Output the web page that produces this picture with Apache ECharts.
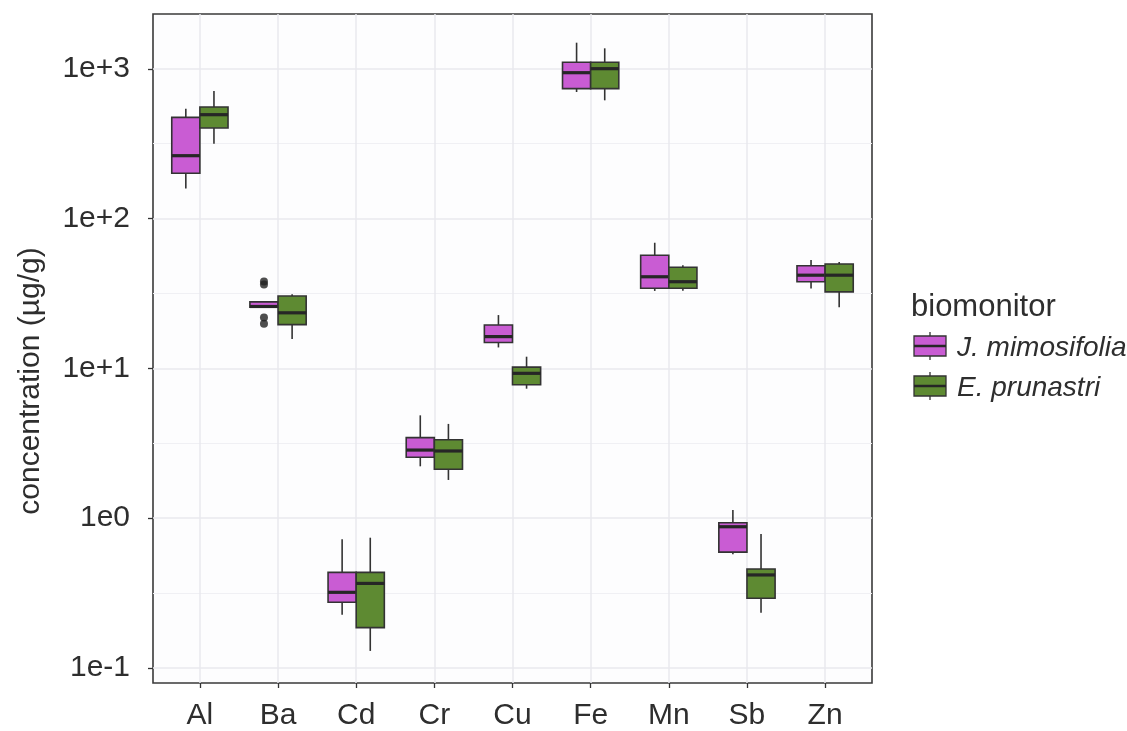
<!DOCTYPE html>
<html>
<head>
<meta charset="utf-8">
<title>Element concentrations by biomonitor</title>
<script src="https://cdn.jsdelivr.net/npm/echarts@6/dist/echarts.min.js"></script>
<style>
  html, body { margin: 0; padding: 0; background: #ffffff; }
  #chart { width: 1127px; height: 731px; }
</style>
</head>
<body>
<div id="chart"></div>
<script>
// Elements on the x axis
const elements = ['Al', 'Ba', 'Cd', 'Cr', 'Cu', 'Fe', 'Mn', 'Sb', 'Zn'];
const biomonitors = ['J. mimosifolia', 'E. prunastri'];
const yTitle = 'concentration (µg/g)';

// Box statistics per element: [lower whisker, Q1, median, Q3, upper whisker] in µg/g
const mimosifoliaStats = [
  [159, 201, 263, 474, 542],
  [25.6, 25.6, 25.9, 27.8, 27.8],
  [0.227, 0.275, 0.320, 0.435, 0.723],
  [2.22, 2.55, 2.85, 3.45, 4.86],
  [13.8, 14.9, 16.3, 19.5, 22.7],
  [700, 737, 942, 1105, 1494],
  [32.9, 34.3, 40.9, 56.9, 69.0],
  [0.574, 0.594, 0.877, 0.933, 1.135],
  [34.1, 37.9, 41.9, 48.5, 52.9]
];
const prunastriStats = [
  [316, 403, 494, 556, 711],
  [15.7, 19.6, 23.5, 30.4, 31.3],
  [0.130, 0.186, 0.367, 0.435, 0.741],
  [1.80, 2.12, 2.81, 3.34, 4.26],
  [7.32, 7.78, 9.27, 10.2, 11.97],
  [616, 737, 1002, 1105, 1370],
  [33.0, 34.3, 37.9, 47.3, 48.8],
  [0.234, 0.292, 0.418, 0.458, 0.785],
  [25.6, 32.4, 41.9, 49.8, 51.3]
];

// Outlying samples: [element, concentration]
const mimosifoliaOutliers = [
  ['Ba', 38.0], ['Ba', 36.3], ['Ba', 21.9], ['Ba', 19.9]
];
const prunastriOutliers = [];

// Y axis breaks (log10 scale)
const majorBreaks = [0.1, 1, 10, 100, 1000];
const majorBreakLabels = ['1e-1', '1e0', '1e+1', '1e+2', '1e+3'];
const minorBreaks = [0.3162, 3.162, 31.62, 316.2];

const Y_MIN = 0.0794;
const Y_MAX = 2322;
const DODGE = 0.18;      // half of a dodged box slot, in category units
const BOX_HALF = 0.18;   // half box width, in category units

const FILLS = ['#C95CD3', '#5E8A32'];
const OUTLINE = '#333333';
const TEXT = '#2e2e2e';
const FONT = "'Liberation Sans', Arial, Helvetica, sans-serif";

function boxData(stats) {
  return stats.map((s, i) => [i + 1].concat(s));
}

function outlierData(list, offset) {
  return list.map(([el, v]) => [elements.indexOf(el) + 1 + offset, v]);
}

function boxRenderer(offset, fill) {
  return function (params, api) {
    const cx = api.value(0) + offset;
    const lo = api.coord([cx, api.value(1)]);
    const q1 = api.coord([cx, api.value(2)]);
    const md = api.coord([cx, api.value(3)]);
    const q3 = api.coord([cx, api.value(4)]);
    const hi = api.coord([cx, api.value(5)]);
    const left = api.coord([cx - BOX_HALF, api.value(3)])[0];
    const right = api.coord([cx + BOX_HALF, api.value(3)])[0];
    const x = md[0];
    const lineStyle = { stroke: OUTLINE, lineWidth: 1.6 };
    return {
      type: 'group',
      children: [
        { type: 'line', shape: { x1: x, y1: hi[1], x2: x, y2: q3[1] }, style: lineStyle },
        { type: 'line', shape: { x1: x, y1: q1[1], x2: x, y2: lo[1] }, style: lineStyle },
        {
          type: 'rect',
          shape: { x: left, y: q3[1], width: right - left, height: q1[1] - q3[1] },
          style: { fill: fill, stroke: OUTLINE, lineWidth: 1.6 }
        },
        {
          type: 'line',
          shape: { x1: left, y1: md[1], x2: right, y2: md[1] },
          style: { stroke: '#262626', lineWidth: 3.2 }
        }
      ]
    };
  };
}

// Legend keys drawn as small boxplot glyphs
function legendKey(centerY, fill) {
  const left = 914, w = 32, h = 20, top = centerY - h / 2;
  return {
    type: 'group',
    children: [
      { type: 'line', shape: { x1: left + w / 2, y1: top - 4, x2: left + w / 2, y2: top + h + 4 },
        style: { stroke: OUTLINE, lineWidth: 1.3 } },
      { type: 'rect', shape: { x: left, y: top, width: w, height: h },
        style: { fill: fill, stroke: OUTLINE, lineWidth: 1.3 } },
      { type: 'line', shape: { x1: left, y1: centerY, x2: left + w, y2: centerY },
        style: { stroke: '#262626', lineWidth: 2.5 } }
    ]
  };
}

const chart = echarts.init(document.getElementById('chart'), null, { renderer: 'canvas' });

chart.setOption({
  animation: false,
  backgroundColor: '#ffffff',
  grid: {
    left: 153, top: 14, width: 719, height: 669,
    show: true,
    backgroundColor: '#FDFDFE',
    borderColor: '#3a3a3a',
    borderWidth: 1.6
  },
  xAxis: {
    type: 'value',
    min: 0.4,
    max: 9.6,
    axisLine: { show: false },
    axisTick: {
      show: true, length: 5, customValues: [1, 2, 3, 4, 5, 6, 7, 8, 9],
      lineStyle: { color: '#333', width: 1.3 }
    },
    axisLabel: {
      customValues: [1, 2, 3, 4, 5, 6, 7, 8, 9],
      formatter: v => elements[Math.round(v) - 1],
      color: TEXT, fontSize: 30, fontFamily: FONT, margin: 18
    },
    splitLine: { show: true, lineStyle: { color: '#E8E8EE', width: 1.5 } }
  },
  yAxis: [
    {
      type: 'log',
      logBase: 10,
      min: Y_MIN,
      max: Y_MAX,
      axisLine: { show: false },
      axisTick: {
        show: true, length: 5, customValues: majorBreaks,
        lineStyle: { color: '#333', width: 1.3 }
      },
      axisLabel: {
        customValues: majorBreaks,
        formatter: v => majorBreakLabels[majorBreaks.findIndex(b => Math.abs(Math.log10(b) - Math.log10(v)) < 1e-6)],
        color: TEXT, fontSize: 30, fontFamily: FONT, margin: 23
      },
      splitLine: { show: true, lineStyle: { color: '#E8E8EE', width: 1.5 } }
    },
    {
      // minor breaks halfway between decades
      type: 'log',
      logBase: 10,
      min: Y_MIN,
      max: Y_MAX,
      position: 'right',
      axisLine: { show: false },
      axisTick: { show: false, customValues: minorBreaks },
      axisLabel: { show: false, customValues: minorBreaks },
      splitLine: { show: true, lineStyle: { color: '#F0F0F4', width: 1 } }
    }
  ],
  series: [
    {
      name: biomonitors[0],
      type: 'custom',
      yAxisIndex: 0,
      renderItem: boxRenderer(-DODGE, FILLS[0]),
      encode: { x: 0, y: [1, 2, 3, 4, 5] },
      data: boxData(mimosifoliaStats),
      z: 3
    },
    {
      name: biomonitors[1],
      type: 'custom',
      yAxisIndex: 0,
      renderItem: boxRenderer(DODGE, FILLS[1]),
      encode: { x: 0, y: [1, 2, 3, 4, 5] },
      data: boxData(prunastriStats),
      z: 3
    },
    {
      name: biomonitors[0] + ' outliers',
      type: 'scatter',
      yAxisIndex: 0,
      symbol: 'circle',
      symbolSize: 8,
      itemStyle: { color: '#222222' },
      data: outlierData(mimosifoliaOutliers, -DODGE),
      z: 4
    },
    {
      name: biomonitors[1] + ' outliers',
      type: 'scatter',
      yAxisIndex: 0,
      symbol: 'circle',
      symbolSize: 8,
      itemStyle: { color: '#222222' },
      data: outlierData(prunastriOutliers, DODGE),
      z: 4
    }
  ],
  graphic: [
    {
      // y axis title
      type: 'text', x: 31, y: 381, rotation: Math.PI / 2,
      style: { text: yTitle, fontSize: 30, fontFamily: FONT, fill: TEXT, align: 'center', verticalAlign: 'middle' }
    },
    {
      type: 'text', left: 911, top: 292,
      style: { text: 'biomonitor', fontSize: 31, fontFamily: FONT, fill: TEXT }
    },
    legendKey(346, FILLS[0]),
    legendKey(386, FILLS[1]),
    {
      type: 'text', x: 957, y: 348,
      style: { text: biomonitors[0], fontSize: 28, fontStyle: 'italic', fontFamily: FONT, fill: TEXT, verticalAlign: 'middle' }
    },
    {
      type: 'text', x: 957, y: 388,
      style: { text: biomonitors[1], fontSize: 28, fontStyle: 'italic', fontFamily: FONT, fill: TEXT, verticalAlign: 'middle' }
    }
  ]
});
</script>
</body>
</html>
